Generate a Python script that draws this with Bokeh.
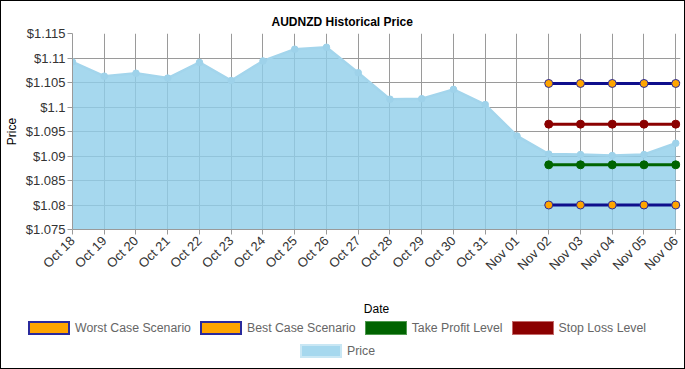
import math
from bokeh.plotting import figure
from bokeh.layouts import column
from bokeh.models import Range1d, FixedTicker, CustomJSTickFormatter, ColumnDataSource, Div
from bokeh.embed import file_html
from bokeh.resources import INLINE

# ---- data ----
dates = ["Oct 18", "Oct 19", "Oct 20", "Oct 21", "Oct 22", "Oct 23", "Oct 24", "Oct 25",
         "Oct 26", "Oct 27", "Oct 28", "Oct 29", "Oct 30", "Oct 31", "Nov 01", "Nov 02",
         "Nov 03", "Nov 04", "Nov 05", "Nov 06"]
price = [1.1092, 1.1063, 1.1069, 1.1059, 1.1091, 1.1054, 1.1094, 1.1118, 1.1122, 1.1070,
         1.1016, 1.1017, 1.1036, 1.1005, 1.0941, 1.0904, 1.0903, 1.0901, 1.0903, 1.0926]
level_dates = ["Nov 02", "Nov 03", "Nov 04", "Nov 05", "Nov 06"]
worst_case = [1.1048, 1.1048, 1.1048, 1.1048, 1.1048]
best_case = [1.0800, 1.0800, 1.0800, 1.0800, 1.0800]
take_profit = [1.0882, 1.0882, 1.0882, 1.0882, 1.0882]
stop_loss = [1.0965, 1.0965, 1.0965, 1.0965, 1.0965]
y_ticks = [1.075, 1.08, 1.085, 1.09, 1.095, 1.1, 1.105, 1.11, 1.115]
legend_row1 = ["Worst Case Scenario", "Best Case Scenario", "Take Profit Level", "Stop Loss Level"]
legend_row2 = ["Price"]

FONT = "Liberation Sans"
W = 683

x_idx = list(range(len(dates)))
lx = [dates.index(d) for d in level_dates]
base = [y_ticks[0]] * len(price)

# ---------------- main chart ----------------
p = figure(width=W, height=318, output_backend="svg", toolbar_location=None,
           x_range=Range1d(0, len(dates) - 1 + 0.15), y_range=Range1d(y_ticks[0], y_ticks[-1]),
           title="AUDNZD  Historical Price",
           min_border_left=69, min_border_right=4, min_border_top=32, min_border_bottom=89)
p.outline_line_color = None
p.background_fill_color = "white"

p.title.align = "left"
p.title.offset = 199
p.title.text_font = FONT
p.title.text_font_size = "12px"
p.title.text_font_style = "bold"
p.title.text_color = "black"
p.title.standoff = 10

for g in (p.xgrid, p.ygrid):
    g.grid_line_color = "#9a9a9a"
    g.grid_line_width = 1
p.xgrid.ticker = FixedTicker(ticks=x_idx)
p.ygrid.ticker = FixedTicker(ticks=y_ticks)

p.xaxis.ticker = FixedTicker(ticks=x_idx)
p.xaxis.major_label_overrides = {i: d for i, d in enumerate(dates)}
p.xaxis.major_label_orientation = math.pi / 4
p.xaxis.major_label_text_font = FONT
p.xaxis.major_label_text_font_size = "13px"
p.xaxis.major_label_text_color = "#333333"
p.xaxis.axis_label = "Date"
p.yaxis.ticker = FixedTicker(ticks=y_ticks)
p.yaxis.formatter = CustomJSTickFormatter(code="return '$' + parseFloat(tick.toFixed(3));")
p.yaxis.major_label_text_font = FONT
p.yaxis.major_label_text_font_size = "13px"
p.yaxis.major_label_text_color = "#333333"
p.yaxis.axis_label = "Price"
for ax in (p.xaxis[0], p.yaxis[0]):
    ax.axis_line_color = "#9a9a9a"
    ax.major_tick_line_color = "#9a9a9a"
    ax.major_tick_out = 5
    ax.major_tick_in = 0
    ax.minor_tick_line_color = None
    ax.axis_label_text_font = FONT
    ax.axis_label_text_font_size = "12px"
    ax.axis_label_text_font_style = "normal"
    ax.axis_label_text_color = "black"
p.xaxis.major_label_standoff = 4
p.xaxis.axis_label_standoff = 21
p.yaxis.major_label_standoff = 2
p.yaxis.axis_label_standoff = 4

src = ColumnDataSource(dict(x=x_idx, y=price, base=base))
p.varea(x="x", y1="base", y2="y", source=src, fill_color="#90CEEA", fill_alpha=0.8)
p.line(x="x", y="y", source=src, line_color="#a3d5ec", line_width=2.5)
p.scatter(x="x", y="y", source=src, size=6.5, fill_color="#9ed2ea", line_color="#9ed2ea")

def level(vals, line_col, fill_col, outline_col):
    p.line(x=lx, y=vals, line_color=line_col, line_width=3)
    p.scatter(x=lx, y=vals, size=8, fill_color=fill_col, line_color=outline_col, line_width=1)

level(worst_case, "#0f0f8c", "#ffa500", "#2a2a9c")
level(best_case, "#0f0f8c", "#ffa500", "#2a2a9c")
level(take_profit, "#006400", "#006400", "#006400")
level(stop_loss, "#8b0000", "#8b0000", "#8b0000")

# ---------------- legend (HTML) ----------------
row1_style = [("#ffa500", "#2a2a9c", 2), ("#ffa500", "#2a2a9c", 2),
              ("#006400", "#4f9a4f", 1), ("#8b0000", "#c46a6a", 1)]
row2_style = [("#a6d8ee", "#c9e7f4", 2)]

def item(label, fill, edge, bw):
    return (f'<span style="display:inline-block;box-sizing:border-box;width:42px;height:14px;'
            f'background:{fill};border:{bw}px solid {edge};"></span>'
            f'<span style="margin-left:5px;margin-right:9px;font-size:12.3px;">{label}</span>')

def row(labels, styles, top, left):
    inner = "".join(item(l, *s) for l, s in zip(labels, styles))
    return (f'<div style="margin-top:{top}px;margin-left:{left}px;height:16px;display:flex;'
            f'align-items:center;white-space:nowrap;">{inner}</div>')

html = (f'<div style="font-family:\'{FONT}\';font-size:12px;color:#666666;line-height:16px;">'
        + row(legend_row1, row1_style, 1, 27) + row(legend_row2, row2_style, 7, 299) + '</div>')
legend_div = Div(text=html, width=W, height=49, margin=0)

layout = column(p, legend_div, spacing=0, styles={"border": "1px solid black"})
open("out.html", "w").write(file_html(layout, INLINE))
